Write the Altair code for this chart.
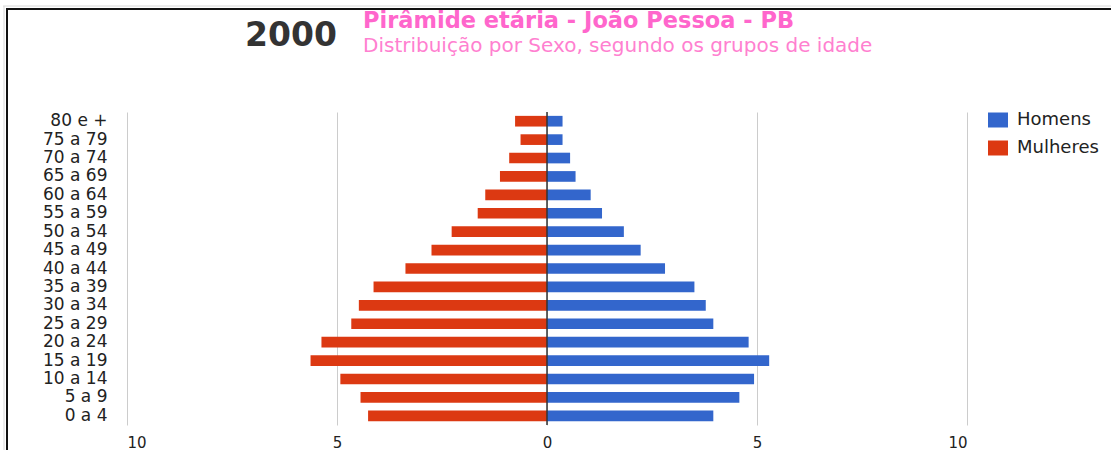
import altair as alt
import pandas as pd

# Age groups, listed from the oldest (top row) to the youngest (bottom row)
age_groups = [
    "80 e +", "75 a 79", "70 a 74", "65 a 69", "60 a 64", "55 a 59",
    "50 a 54", "45 a 49", "40 a 44", "35 a 39", "30 a 34", "25 a 29",
    "20 a 24", "15 a 19", "10 a 14", "5 a 9", "0 a 4",
]
# Share of the population (%) in each group
homens = [0.37, 0.37, 0.55, 0.68, 1.04, 1.31, 1.83, 2.23, 2.81,
          3.51, 3.78, 3.96, 4.80, 5.29, 4.93, 4.58, 3.96]
mulheres = [0.76, 0.63, 0.90, 1.12, 1.47, 1.65, 2.27, 2.75, 3.37,
            4.13, 4.48, 4.66, 5.37, 5.63, 4.92, 4.44, 4.26]
sexos = ["Homens", "Mulheres"]
cores = ["#3366cc", "#dc3912"]
x_ticks = [-10, -5, 0, 5, 10]

ano = "2000"
titulo = "Pirâmide etária - João Pessoa - PB"
subtitulo = "Distribuição por Sexo, segundo os grupos de idade"

FONT = "DejaVu Sans"

# Women are drawn to the left of zero, men to the right
rows = []
for g, h, m in zip(age_groups, homens, mulheres):
    rows.append({"grupo": g, "sexo": "Homens", "valor": h})
    rows.append({"grupo": g, "sexo": "Mulheres", "valor": -m})
df = pd.DataFrame(rows)

x_scale = alt.Scale(domain=[-10, 10], nice=False, zero=False)

bars = alt.Chart(df).mark_bar().encode(
    x=alt.X(
        "valor:Q",
        scale=x_scale,
        axis=alt.Axis(
            values=x_ticks,
            labelExpr="abs(datum.value)",
            title=None,
            grid=True,
            gridColor="#cccccc",
            gridWidth=1,
            domain=False,
            ticks=False,
            tickSize=0,
            labelPadding=10,
            labelFontSize=15,
            labelFont=FONT,
            labelColor="#222222",
        ),
    ),
    y=alt.Y(
        "grupo:N",
        sort=age_groups,
        scale=alt.Scale(paddingInner=0.42, paddingOuter=0.21),
        axis=alt.Axis(
            title=None,
            domain=False,
            ticks=False,
            tickSize=0,
            grid=False,
            labelPadding=20,
            labelFontSize=17,
            labelFont=FONT,
            labelColor="#222222",
        ),
    ),
    color=alt.Color(
        "sexo:N",
        scale=alt.Scale(domain=sexos, range=cores),
        legend=alt.Legend(
            title=None,
            orient="none",
            legendX=861,
            legendY=-2,
            padding=0,
            symbolType="M-1,-0.75H1V0.75H-1Z",
            symbolSize=400,
            symbolStrokeWidth=0,
            symbolOpacity=1,
            labelFont=FONT,
            labelFontSize=18,
            labelColor="#222222",
            labelOffset=9,
            rowPadding=9,
        ),
    ),
)

# Dark baseline at zero, drawn over the bars
zero_line = alt.Chart(pd.DataFrame({"z": [0]})).mark_rule(
    color="#333333", strokeWidth=1.5
).encode(x=alt.X("z:Q", scale=x_scale))

# Heading texts
year_text = alt.Chart(pd.DataFrame({"t": [ano]})).mark_text(
    font=FONT, fontSize=33, fontWeight="bold", color="#333333",
    align="left", baseline="alphabetic",
).encode(text="t:N", x=alt.value(118), y=alt.value(-66))

title_text = alt.Chart(pd.DataFrame({"t": [titulo]})).mark_text(
    font=FONT, fontSize=22.5, fontWeight="bold", color="#ff66cc",
    align="left", baseline="alphabetic",
).encode(text="t:N", x=alt.value(236), y=alt.value(-84))

subtitle_text = alt.Chart(pd.DataFrame({"t": [subtitulo]})).mark_text(
    font=FONT, fontSize=20, color="#ff80d0",
    align="left", baseline="alphabetic",
).encode(text="t:N", x=alt.value(236), y=alt.value(-60))

# Frame around the page
frame_top = alt.Chart(pd.DataFrame({"f": [0]})).mark_rule(
    color="#111111", strokeWidth=2
).encode(x=alt.value(-121), x2=alt.value(990), y=alt.value(-103))
frame_left = alt.Chart(pd.DataFrame({"f": [0]})).mark_rule(
    color="#111111", strokeWidth=2
).encode(x=alt.value(-120), y=alt.value(-104), y2=alt.value(340))
frame_top_outer = alt.Chart(pd.DataFrame({"f": [0]})).mark_rule(
    color="#d8d8d8", strokeWidth=1
).encode(x=alt.value(-124), x2=alt.value(990), y=alt.value(-106))
frame_left_outer = alt.Chart(pd.DataFrame({"f": [0]})).mark_rule(
    color="#d8d8d8", strokeWidth=1
).encode(x=alt.value(-123), y=alt.value(-106), y2=alt.value(340))

chart = alt.layer(
    bars, zero_line, year_text, title_text, subtitle_text,
    frame_top_outer, frame_left_outer, frame_top, frame_left,
).properties(
    width=840,
    height=313,
    autosize=alt.AutoSizeParams(type="none"),
    padding={"left": 127, "top": 112, "right": 144, "bottom": 25},
    background="white",
).configure_view(stroke=None)

chart.save("out.html", embed_options={"renderer": "svg", "actions": False})
